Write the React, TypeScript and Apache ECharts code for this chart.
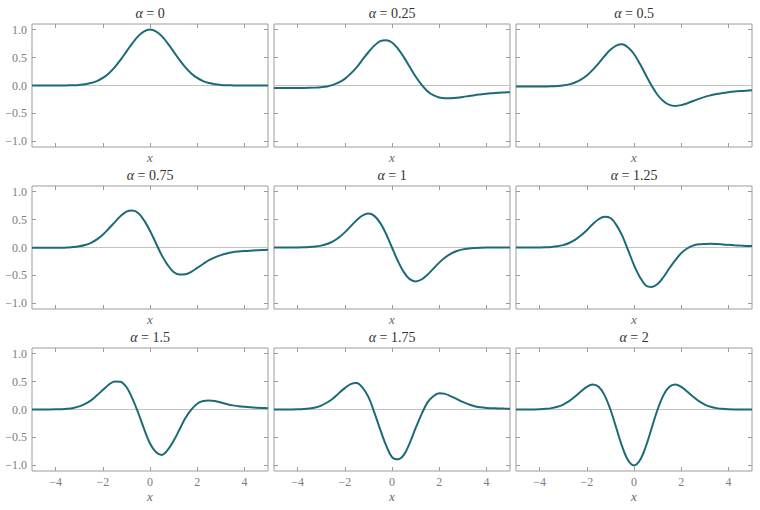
import React, { useEffect, useRef } from 'react';
import * as echarts from 'echarts';

const xs = [-5, -4.75, -4.5, -4.25, -4, -3.75, -3.5, -3.25, -3, -2.75, -2.5, -2.25, -2, -1.75, -1.5, -1.25, -1, -0.75, -0.5, -0.25, 0, 0.25, 0.5, 0.75, 1, 1.25, 1.5, 1.75, 2, 2.25, 2.5, 2.75, 3, 3.25, 3.5, 3.75, 4, 4.25, 4.5, 4.75, 5];

const yAlpha0 = [0, 0, 0, 0.0001, 0.0003, 0.0009, 0.0022, 0.0051, 0.0111, 0.0228, 0.0439, 0.0796, 0.1353, 0.2163, 0.3247, 0.4578, 0.6065, 0.7548, 0.8825, 0.9692, 1, 0.9692, 0.8825, 0.7548, 0.6065, 0.4578, 0.3247, 0.2163, 0.1353, 0.0796, 0.0439, 0.0228, 0.0111, 0.0051, 0.0022, 0.0009, 0.0003, 0.0001, 0, 0, 0];
const yAlpha025 = [-0.045, -0.045, -0.045, -0.045, -0.044, -0.044, -0.042, -0.038, -0.03, -0.016, 0.011, 0.055, 0.119, 0.212, 0.325, 0.461, 0.595, 0.713, 0.794, 0.811, 0.77, 0.66, 0.508, 0.334, 0.16, 0.015, -0.101, -0.174, -0.215, -0.229, -0.226, -0.218, -0.205, -0.189, -0.173, -0.16, -0.148, -0.139, -0.131, -0.125, -0.119];
const yAlpha05 = [-0.018, -0.018, -0.018, -0.018, -0.017, -0.016, -0.014, -0.009, 0.002, 0.02, 0.053, 0.105, 0.179, 0.28, 0.397, 0.525, 0.638, 0.713, 0.736, 0.679, 0.563, 0.387, 0.188, -0.003, -0.17, -0.281, -0.347, -0.365, -0.351, -0.319, -0.278, -0.24, -0.204, -0.176, -0.152, -0.135, -0.121, -0.109, -0.1, -0.093, -0.087];
const yAlpha075 = [-0.005, -0.005, -0.005, -0.005, -0.004, -0.003, 0.001, 0.007, 0.021, 0.044, 0.084, 0.145, 0.227, 0.336, 0.45, 0.561, 0.642, 0.661, 0.617, 0.485, 0.3, 0.079, -0.141, -0.314, -0.437, -0.484, -0.48, -0.434, -0.365, -0.295, -0.228, -0.177, -0.136, -0.106, -0.085, -0.072, -0.063, -0.056, -0.05, -0.045, -0.041];
const yAlpha1 = [0, 0.0001, 0.0002, 0.0005, 0.0013, 0.0033, 0.0077, 0.0165, 0.0333, 0.0626, 0.1098, 0.179, 0.2707, 0.3785, 0.487, 0.5723, 0.6065, 0.5661, 0.4412, 0.2423, 0, -0.2423, -0.4412, -0.5661, -0.6065, -0.5723, -0.487, -0.3785, -0.2707, -0.179, -0.1098, -0.0626, -0.0333, -0.0165, -0.0077, -0.0033, -0.0013, -0.0005, -0.0002, -0.0001, 0];
const yAlpha125 = [0, 0.0001, 0.0003, 0.0007, 0.0019, 0.0045, 0.0104, 0.0218, 0.043, 0.08, 0.135, 0.216, 0.31, 0.417, 0.505, 0.548, 0.527, 0.404, 0.212, -0.048, -0.314, -0.53, -0.678, -0.706, -0.653, -0.528, -0.372, -0.227, -0.101, -0.018, 0.034, 0.057, 0.064, 0.066, 0.062, 0.055, 0.047, 0.04, 0.034, 0.029, 0.025];
const yAlpha15 = [0, 0.0001, 0.0004, 0.001, 0.0026, 0.0062, 0.0138, 0.0287, 0.055, 0.101, 0.164, 0.253, 0.348, 0.443, 0.503, 0.498, 0.402, 0.2, -0.058, -0.349, -0.608, -0.76, -0.812, -0.724, -0.561, -0.358, -0.154, -0.004, 0.103, 0.151, 0.162, 0.151, 0.126, 0.098, 0.074, 0.059, 0.048, 0.039, 0.032, 0.027, 0.023];
const yAlpha175 = [0.0001, 0.0002, 0.0005, 0.0014, 0.0036, 0.0083, 0.0184, 0.0372, 0.07, 0.125, 0.196, 0.291, 0.382, 0.454, 0.472, 0.391, 0.226, -0.05, -0.357, -0.642, -0.85, -0.892, -0.813, -0.6, -0.335, -0.086, 0.123, 0.238, 0.289, 0.279, 0.236, 0.187, 0.135, 0.092, 0.057, 0.039, 0.028, 0.023, 0.019, 0.016, 0.014];
const yAlpha2 = [0.0001, 0.0003, 0.0008, 0.002, 0.005, 0.0114, 0.0246, 0.0486, 0.0889, 0.1494, 0.2307, 0.3232, 0.406, 0.4461, 0.4058, 0.2575, 0, -0.3302, -0.6619, -0.9087, -1, -0.9087, -0.6619, -0.3302, 0, 0.2575, 0.4058, 0.4461, 0.406, 0.3232, 0.2307, 0.1494, 0.0889, 0.0486, 0.0246, 0.0114, 0.005, 0.002, 0.0008, 0.0003, 0.0001];

const alphaLabels = ['0', '0.25', '0.5', '0.75', '1', '1.25', '1.5', '1.75', '2'];
const panelValues = [yAlpha0, yAlpha025, yAlpha05, yAlpha075, yAlpha1, yAlpha125, yAlpha15, yAlpha175, yAlpha2];
const xTicks = [-4, -2, 0, 2, 4];
const yTicks = [-1, -0.5, 0, 0.5, 1];

const SERIF = 'Liberation Serif';
const FRAME = '#9c9c9c';
const LINE = '#1d6a77';

const LEFTS = [32, 274, 516];
const TOPS = [24, 186, 348];
const PW = 236;
const PH = 123;

const minus = (s: string) => s.replace('-', '\u2212');

export default function App() {
  const ref = useRef<HTMLDivElement>(null);

  useEffect(() => {
    document.body.style.margin = '0';
    const chart = echarts.init(ref.current as HTMLDivElement, null, { renderer: 'svg' });

    const grids: any[] = [];
    const xAxes: any[] = [];
    const yAxes: any[] = [];
    const series: any[] = [];
    const graphics: any[] = [];

    const n = panelValues.length;
    panelValues.forEach((vals, i) => {
      const row = Math.floor(i / 3);
      const col = i % 3;
      grids.push({
        left: LEFTS[col],
        top: TOPS[row],
        width: PW,
        height: PH,
        show: true,
        borderColor: FRAME,
        borderWidth: 1,
        backgroundColor: 'transparent',
        containLabel: false,
      });
      xAxes.push({
        type: 'value',
        gridIndex: i,
        position: 'bottom',
        min: -5,
        max: 5,
        axisLine: { show: false, onZero: false },
        axisTick: { show: true, inside: true, length: 4, lineStyle: { color: FRAME }, customValues: xTicks },
        axisLabel: {
          show: row === 2,
          customValues: xTicks,
          formatter: (v: number) => minus(String(v)),
          color: '#7d7d7d',
          fontFamily: SERIF,
          fontSize: 12,
          margin: 5,
        },
        splitLine: { show: false },
        name: 'x',
        nameLocation: 'middle',
        nameGap: row === 2 ? 19 : 4,
        nameTextStyle: { fontStyle: 'italic', fontFamily: SERIF, fontSize: 13, color: '#666', verticalAlign: 'top' },
      });
      yAxes.push({
        type: 'value',
        gridIndex: i,
        position: 'left',
        min: -1.1,
        max: 1.1,
        axisLine: { show: false, onZero: false },
        axisTick: { show: true, inside: true, length: 4, lineStyle: { color: FRAME }, customValues: yTicks },
        axisLabel: {
          show: col === 0,
          customValues: yTicks,
          formatter: (v: number) => minus(v.toFixed(1)),
          color: '#7d7d7d',
          fontFamily: SERIF,
          fontSize: 12,
          margin: 5,
        },
        splitLine: { show: false },
      });
      series.push({
        type: 'line',
        xAxisIndex: i,
        yAxisIndex: i,
        data: [[-5, 0], [5, 0]],
        symbol: 'none',
        silent: true,
        z: 1,
        lineStyle: { color: '#c2c2c2', width: 1.2 },
      });
      series.push({
        type: 'line',
        xAxisIndex: i,
        yAxisIndex: i,
        data: xs.map((x, k) => [x, vals[k]]),
        symbol: 'none',
        showSymbol: false,
        smooth: 0.35,
        silent: true,
        z: 2,
        lineStyle: { color: LINE, width: 2 },
      });
      graphics.push({
        type: 'text',
        x: LEFTS[col] + PW / 2,
        y: TOPS[row] - 11,
        style: {
          text: '{a|\u03b1} = ' + alphaLabels[i],
          textAlign: 'center',
          textVerticalAlign: 'middle',
          fill: '#333',
          fontFamily: SERIF,
          fontSize: 14,
          rich: {
            a: { fontStyle: 'italic', fontFamily: SERIF, fontSize: 14, fill: '#333' },
          },
        },
      });
    });
    for (let i = 0; i < n; i++) {
      xAxes.push({
        type: 'value',
        gridIndex: i,
        position: 'top',
        min: -5,
        max: 5,
        axisLine: { show: false, onZero: false },
        axisTick: { show: true, inside: true, length: 4, lineStyle: { color: FRAME }, customValues: xTicks },
        axisLabel: { show: false },
        splitLine: { show: false },
      });
      yAxes.push({
        type: 'value',
        gridIndex: i,
        position: 'right',
        min: -1.1,
        max: 1.1,
        axisLine: { show: false, onZero: false },
        axisTick: { show: true, inside: true, length: 4, lineStyle: { color: FRAME }, customValues: yTicks },
        axisLabel: { show: false },
        splitLine: { show: false },
      });
    }

    chart.setOption({
      animation: false,
      backgroundColor: '#ffffff',
      grid: grids,
      xAxis: xAxes,
      yAxis: yAxes,
      series,
      graphic: graphics,
    });

    return () => {
      chart.dispose();
    };
  }, []);

  return <div ref={ref} style={{ width: 760, height: 510 }} />;
}
